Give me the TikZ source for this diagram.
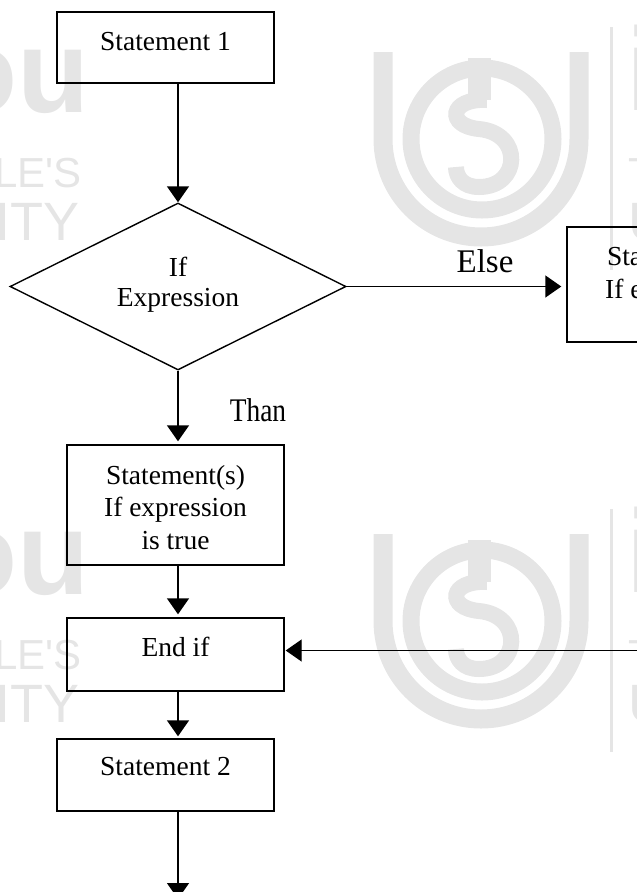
\documentclass[tikz,border=0pt]{standalone}
\usepackage{fontspec}
\setmainfont{Liberation Serif}
\newfontfamily\wmfont{Liberation Sans}
\newfontfamily\thanfont[FakeStretch=0.83]{Liberation Serif}
\usetikzlibrary{arrows.meta,shapes.geometric}
\definecolor{wmgray}{gray}{0.9}
\begin{document}
\begin{tikzpicture}[x=1pt,y=-1pt,
  box/.style={draw, line width=1.4pt, rectangle, inner sep=0pt, minimum width=217pt},
  txt/.style={font=\fontsize{27.5}{32.5}\selectfont, align=center, inner sep=0pt},
  lbl/.style={font=\fontsize{33}{38}\selectfont, inner sep=0pt},
  arr/.style={line width=1.4pt, -{Triangle[width=22pt,length=16pt]}},
  wm/.style={draw=wmgray, line width=19pt},
  wmtext/.style={text=wmgray, inner sep=0pt},
]
\useasboundingbox (0,0) rectangle (637,892);
\clip (0,0) rectangle (637,892);
% --- faint watermark ---
\foreach \dy in {0,482} {
  \begin{scope}[shift={(0,\dy)}]
    \draw[wm] (383,52) -- (383,139) arc[start angle=180, end angle=0, radius=98] -- (579,52);
    \draw[wm, line width=17pt] (482,139) circle[radius=71];
    \fill[wmgray] (468,58) rectangle (491,100);
    \draw[wm, line width=16pt] (487,100) .. controls (449,98) and (446,126) .. (479,129)
      .. controls (523,133) and (521,187) .. (479,187) .. controls (463,187) and (456,177) .. (456,167);
    \draw[draw=wmgray, line width=3pt] (611,27) -- (611,270);
    \node[wmtext, anchor=base east, font=\wmfont\bfseries\fontsize{118}{118}\selectfont] (wmL\dy) at (90,112) {ignou};
    \node[wmtext, anchor=base east, font=\wmfont\fontsize{42}{42}\selectfont] (wmP\dy) at (82,187) {THE PEOPLE'S};
    \node[wmtext, anchor=base east, font=\wmfont\fontsize{54}{54}\selectfont] (wmU\dy) at (80,240) {UNIVERSITY};
    \node[wmtext, anchor=base west, font=\wmfont\bfseries\fontsize{118}{118}\selectfont] (wmR\dy) at (626,110) {ignou};
    \node[wmtext, anchor=base west, font=\wmfont\fontsize{42}{42}\selectfont] (wmQ\dy) at (628,187) {THE PEOPLE'S};
    \node[wmtext, anchor=base west, font=\wmfont\fontsize{54}{54}\selectfont] (wmV\dy) at (628,240) {UNIVERSITY};
  \end{scope}
}
% --- boxes ---
\node[box, minimum height=71pt] (s1) at (165.5,47.5) {};
\node[txt] (s1t) at (165.5,42) {Statement 1};
\node[draw, line width=1.4pt, diamond, aspect=2, inner sep=0pt, minimum width=336pt, minimum height=167pt] (d) at (178,286.5) {};
\node[txt, font=\fontsize{27.5}{30}\selectfont] (dt) at (178,285) {If\\Expression};
\node[box, minimum height=120pt] (st) at (175.5,505) {};
\node[txt] (stt) at (175.5,507.5) {Statement(s)\\If expression\\is true};
\node[box, minimum height=115pt] (rb) at (675.5,284.5) {};
\node[txt] (rbt) at (676.5,289) {Statement(s)\\If expression\\is false};
\node[box, minimum height=73pt] (endif) at (175.5,654.5) {};
\node[txt] (endift) at (175.5,647) {End if};
\node[box, minimum height=72pt] (s2) at (165.5,775) {};
\node[txt] (s2t) at (165.5,767) {Statement 2};
\coordinate (out) at (178,899);
% --- labels ---
\node[lbl] (else) at (485,261) {Else};
\node[lbl, font=\thanfont\fontsize{33}{38}\selectfont] (than) at (258,410) {Than};
% --- connectors ---
\draw[arr] (s1.south -| d.north) -- (d.north);
\draw[arr, shorten >=3pt] (d.south) -- (st.north -| d.south);
\draw[arr, shorten >=5pt] (d.east) -- (rb.west |- d.east);
\draw[arr, shorten >=3pt] (st.south -| d.south) -- (endif.north -| d.south);
\draw[arr, shorten >=2pt] (endif.south -| d.south) -- (s2.north -| d.south);
\draw[arr] (s2.south -| d.south) -- (out);
\draw[arr, shorten >=1pt] (rb.south) |- ([yshift=4pt]endif.east);
\end{tikzpicture}
\end{document}
